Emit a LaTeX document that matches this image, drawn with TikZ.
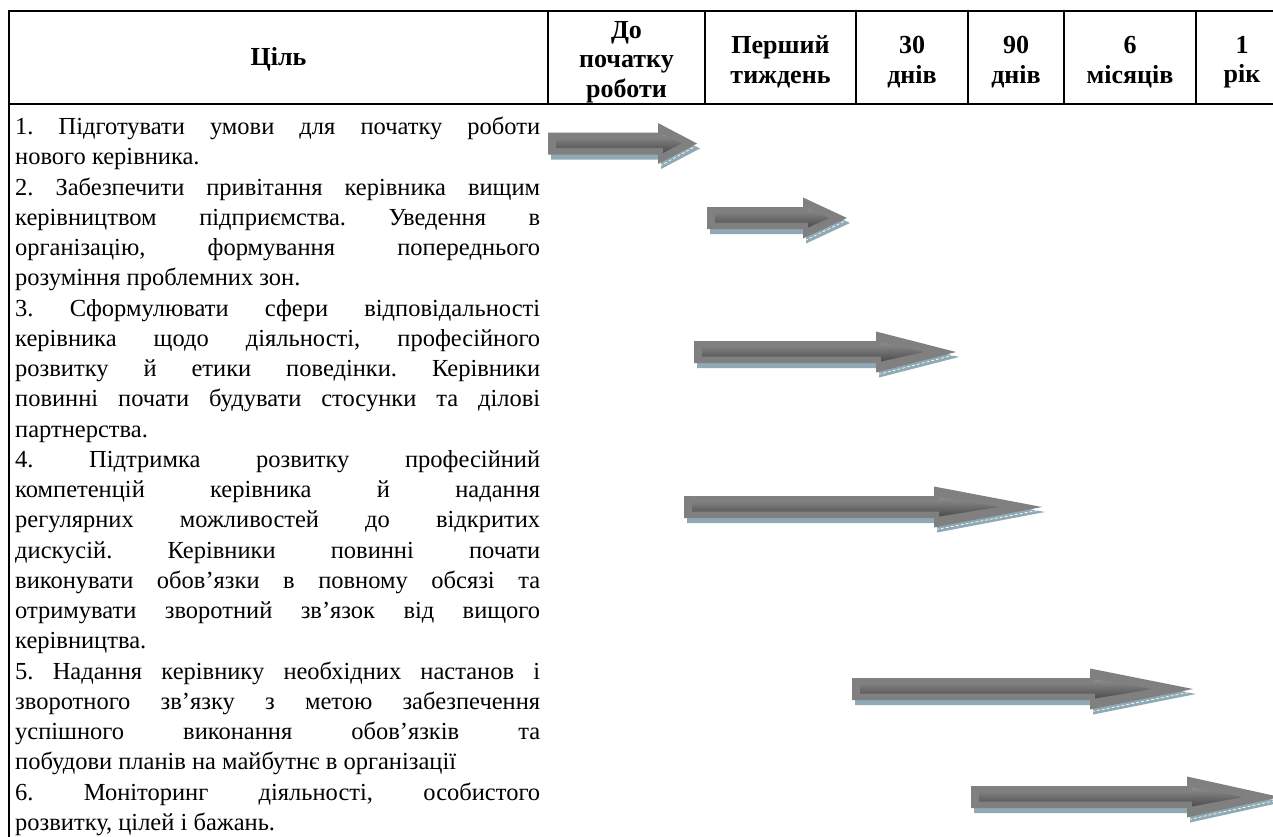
\documentclass[tikz,border=0pt]{standalone}
\usepackage{fontspec}
\setmainfont{Liberation Serif}
\usetikzlibrary{positioning}
\frenchspacing

\definecolor{arrgray}{HTML}{808080}
\definecolor{arrdark}{HTML}{4C4C4C}
\definecolor{arrshadow}{HTML}{8FAAB4}

% one stretched (justified) line of the goal column
\newcommand{\jl}[1]{\makebox[525pt][s]{#1}}

% block arrow: start, head base, tip, middle
\newcommand{\goalarrow}[4]{%
  \begin{scope}[shift={(3,5)}]
    \fill[arrshadow] (#1,#4-11) -- (#2,#4-11) -- (#2,#4-20.5) -- (#3,#4) -- (#2,#4+20.5) -- (#2,#4+11) -- (#1,#4+11) -- cycle;
  \end{scope}
  \draw[white,densely dashed,line width=0.7pt] (#2+2,#4+22.5) -- (#3-2,#4+3);
  \fill[arrgray] (#1,#4-11) -- (#2,#4-11) -- (#2,#4-20.5) -- (#3,#4) -- (#2,#4+20.5) -- (#2,#4+11) -- (#1,#4+11) -- cycle;
  \shade[top color=arrgray!90!white,bottom color=arrdark] (#1+8,#4-4.5) -- (#2+5,#4-4.5) -- (#2+5,#4-9.5) -- ({#2+0.6*(#3-#2)},#4) -- (#2+5,#4+9.5) -- (#2+5,#4+4.5) -- (#1+8,#4+4.5) -- cycle;
}

\begin{document}
\begin{tikzpicture}[x=1pt,y=-1pt,
    tbl/.style={line width=1.8pt},
    head/.style={align=center,inner sep=0pt,font=\bfseries\fontsize{26}{29.5}\selectfont},
    goalline/.style={anchor=base west,inner sep=0pt,font=\fontsize{24.5}{30}\selectfont}]
\useasboundingbox (0,0) rectangle (1273,836);

% table frame
\draw[tbl] (9,840) -- (9,11) -- (1273,11);
\draw[tbl] (9,104) -- (1273,104);
\foreach \x in {548,705,856,968,1064,1196} {
    \draw[tbl] (\x,11) -- (\x,104);
}

% header
\node[head] (goal) at (278.5,59) {Ціль};
\node[head] (before) at (626.5,62) {До\\початку\\роботи};
\node[head] (week) at (780.5,62) {Перший\\тиждень};
\node[head] (d30) at (912,62) {30\\днів};
\node[head] (d90) at (1016,62) {90\\днів};
\node[head] (m6) at (1130,62) {6\\місяців};
\node[head] (y1) at (1242,62) {1\\рік};

% goals
\foreach \txt [count=\i from 0] in {
    {\jl{1. Підготувати умови для початку роботи}},
    {нового керівника.},
    {\jl{2. Забезпечити привітання керівника вищим}},
    {\jl{керівництвом підприємства. Уведення в}},
    {\jl{організацію, формування попереднього}},
    {розуміння проблемних зон.},
    {\jl{3. Сформулювати сфери відповідальності}},
    {\jl{керівника щодо діяльності, професійного}},
    {\jl{розвитку й етики поведінки. Керівники}},
    {\jl{повинні почати будувати стосунки та ділові}},
    {партнерства.},
    {\jl{4. Підтримка розвитку професійний}},
    {\jl{компетенцій керівника й надання}},
    {\jl{регулярних можливостей до відкритих}},
    {\jl{дискусій. Керівники повинні почати}},
    {\jl{виконувати обов’язки в повному обсязі та}},
    {\jl{отримувати зворотний зв’язок від вищого}},
    {керівництва.},
    {\jl{5. Надання керівнику необхідних настанов і}},
    {\jl{зворотного зв’язку з метою забезпечення}},
    {\jl{успішного виконання обов’язків та}},
    {побудови планів на майбутнє в організації},
    {\jl{6. Моніторинг діяльності, особистого}},
    {розвитку, цілей і бажань.}} {
    \node[goalline] (line\i) at (15,{134.5+30.25*\i}) {\txt};
}

% time arrows
\goalarrow{548}{658}{697}{143.5}
\goalarrow{707}{803}{847}{218}
\goalarrow{694}{876}{956}{352}
\goalarrow{684}{934}{1042}{507}
\goalarrow{852}{1090}{1193}{689}
\goalarrow{971}{1187}{1280}{797}
\end{tikzpicture}
\end{document}
